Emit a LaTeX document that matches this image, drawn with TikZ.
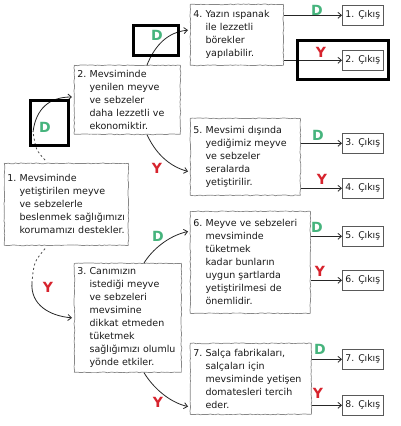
\documentclass[tikz,border=0pt]{standalone}
\usepackage{fontspec}
\setmainfont{DejaVu Sans}
\usetikzlibrary{arrows.meta,decorations.pathmorphing,calc}
\definecolor{dgreen}{RGB}{70,180,125}
\definecolor{dred}{RGB}{215,35,45}
\definecolor{txt}{RGB}{25,25,25}
\definecolor{bord}{RGB}{135,135,135}
\newcommand{\ind}[1]{\phantom{#1.~}}
\tikzset{
  qbox/.style={draw=bord, line width=0.7pt, decorate,
    decoration={random steps,segment length=2.5pt,amplitude=0.4pt},
    anchor=north west, inner xsep=3pt, inner ysep=1pt, align=left,
    font=\fontsize{9.5}{13}\selectfont, text=txt},
  exitbox/.style={draw=black!65, line width=0.6pt, anchor=north west,
    minimum width=41pt, minimum height=20pt, inner sep=0pt,
    font=\fontsize{9.3}{10}\selectfont, text=txt},
  conn/.style={draw=black!85, line width=0.8pt,
    -{Straight Barb[length=3.5pt,width=6pt]}},
  dashconn/.style={draw=black!70, line width=0.8pt, dash pattern=on 2pt off 2.5pt},
  dlab/.style={text=dgreen, font=\fontsize{14}{14}\bfseries\selectfont, inner sep=0pt},
  ylab/.style={text=dred, font=\fontsize{14}{14}\bfseries\selectfont, inner sep=0pt},
  mark box/.style={draw=black, line width=3pt}
}
\begin{document}
\begin{tikzpicture}[x=1pt,y=-1pt]
\useasboundingbox (0,0) rectangle (400,426);
\fill[white] (0,0) rectangle (400,426);
% question boxes
\node[qbox, text width=118pt, minimum height=82pt] (b1) at (4,163)
 {1.~Mevsiminde\\\ind{1}yetiştirilen meyve\\\ind{1}ve sebzelerle\\\ind{1}beslenmek sağlığımızı\\\ind{1}korumamızı destekler.};
\node[qbox, text width=100pt, minimum height=69pt] (b2) at (74,65)
 {2.~Mevsiminde\\\ind{2}yenilen meyve\\\ind{2}ve sebzeler\\\ind{2}daha lezzetli ve\\\ind{2}ekonomiktir.};
\node[qbox, text width=101pt, minimum height=109pt] (b3) at (74,263)
 {3.~Canımızın\\\ind{3}istediği meyve\\\ind{3}ve sebzeleri\\\ind{3}mevsimine\\\ind{3}dikkat etmeden\\\ind{3}tüketmek\\\ind{3}sağlığımızı olumlu\\\ind{3}yönde etkiler.};
\node[qbox, text width=87pt, minimum height=61pt] (b4) at (190,4)
 {4.~Yazın ıspanak\\\ind{4}ile lezzetli\\\ind{4}börekler\\\ind{4}yapılabilir.};
\node[qbox, text width=104pt, minimum height=77pt] (b5) at (190,118)
 {5.~Mevsimi dışında\\\ind{5}yediğimiz meyve\\\ind{5}ve sebzeler\\\ind{5}seralarda\\\ind{5}yetiştirilir.};
\node[qbox, text width=114pt, minimum height=102pt] (b6) at (190,211)
 {6.~Meyve ve sebzeleri\\\ind{6}mevsiminde\\\ind{6}tüketmek\\\ind{6}kadar bunların\\\ind{6}uygun şartlarda\\\ind{6}yetiştirilmesi de\\\ind{6}önemlidir.};
\node[qbox, text width=115pt, minimum height=71pt] (b7) at (190,343)
 {7.~Salça fabrikaları,\\\ind{7}salçaları için\\\ind{7}mevsiminde yetişen\\\ind{7}domatesleri tercih\\\ind{7}eder.};
% exit boxes
\node[exitbox] (e1) at (342,5) {1. Çıkış};
\node[exitbox] (e2) at (342,50) {2. Çıkış};
\node[exitbox] (e3) at (342,133) {3. Çıkış};
\node[exitbox] (e4) at (342,178) {4. Çıkış};
\node[exitbox] (e5) at (342,226) {5. Çıkış};
\node[exitbox] (e6) at (342,270) {6. Çıkış};
\node[exitbox] (e7) at (342,349) {7. Çıkış};
\node[exitbox] (e8) at (342,395) {8. Çıkış};
% exit arrows
\foreach \b/\e in {b4/e1,b4/e2,b5/e3,b5/e4,b6/e5,b6/e6,b7/e7,b7/e8}
  \draw[conn] (\b.east |- \e.west) -- (\e.west);
\node[dlab] (d4) at (317,10) {D};
\node[ylab] (y4) at (321,52) {Y};
\node[dlab] (d5) at (318,135) {D};
\node[ylab] (y5) at (322,179) {Y};
\node[dlab] (d6) at (317,227) {D};
\node[ylab] (y6) at (320,271) {Y};
\node[dlab] (d7) at (320,349) {D};
\node[ylab] (y7) at (318,393) {Y};
% curved connectors
\coordinate (t1) at ($(b1.north west)+(41,-3)$);
\coordinate (m1) at (33,132);
\draw[dashconn] (t1) .. controls (36,150) .. (m1);
\draw[conn, shorten >=2pt] (m1) .. controls (36,108) and (50,97) .. ($(b2.north west)+(0,32)$);
\coordinate (u1) at ($(b1.south west)+(41,3)$);
\coordinate (m2) at (32,282);
\draw[dashconn] (u1) .. controls (34,262) .. (m2);
\draw[conn, shorten >=2pt] (m2) .. controls (30,305) and (50,316) .. ($(b3.north west)+(0,55)$);
\draw[conn, shorten >=2pt] ($(b2.north west)+(73,0)$) .. controls (155,45) and (168,32) .. ($(b4.north west)+(0,26)$);
\draw[conn, shorten >=2pt] ($(b2.south west)+(73,0)$) .. controls (155,152) and (168,166) .. ($(b5.north west)+(0,54)$);
\draw[conn, shorten >=2pt] ($(b3.north west)+(70,0)$) .. controls (152,250) and (168,236) .. ($(b6.north west)+(0,20)$);
\draw[conn, shorten >=2pt] ($(b3.south west)+(70,0)$) .. controls (152,386) and (168,402) .. ($(b7.north west)+(0,64)$);
\node[dlab] (d1) at (45,127) {D};
\node[ylab] (y1) at (48,287) {Y};
\node[dlab] (d2) at (157,35) {D};
\node[ylab] (y2) at (157,168) {Y};
\node[dlab] (d3) at (158,236) {D};
\node[ylab] (y3) at (158,402) {Y};
% highlight frames
\draw[mark box] (30,100) rectangle (68,145);
\draw[mark box] (133,25) rectangle (178,55);
\draw[mark box] (297,40) rectangle (388,79);
\end{tikzpicture}
\end{document}
